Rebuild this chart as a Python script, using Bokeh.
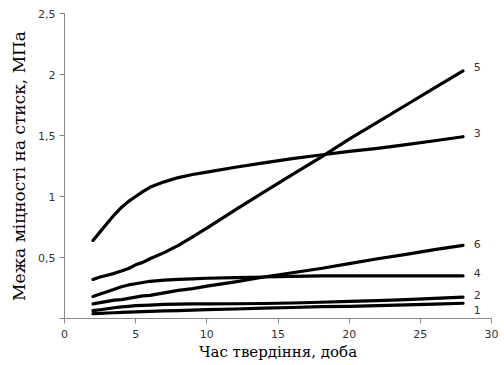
from bokeh.plotting import figure
from bokeh.models import ColumnDataSource, FixedTicker, Range1d
from bokeh.core.properties import value
from bokeh.embed import file_html
from bokeh.resources import INLINE

# ---- data ----
days = [2, 2.5, 3, 3.5, 4, 4.5, 5, 5.5, 6, 7, 8, 9, 10, 12, 14, 16, 18, 20, 22, 24, 26, 28]
s1 = [0.04, 0.042, 0.045, 0.047, 0.05, 0.052, 0.055, 0.056, 0.058, 0.062, 0.065, 0.068, 0.072,
      0.078, 0.085, 0.09, 0.097, 0.1, 0.105, 0.112, 0.118, 0.125]
s2 = [0.065, 0.072, 0.08, 0.088, 0.095, 0.1, 0.105, 0.108, 0.11, 0.115, 0.118, 0.12, 0.12,
      0.121, 0.123, 0.127, 0.133, 0.14, 0.147, 0.155, 0.165, 0.175]
s3 = [0.64, 0.71, 0.78, 0.85, 0.91, 0.96, 1.00, 1.04, 1.075, 1.12, 1.155, 1.18, 1.20,
      1.24, 1.275, 1.31, 1.34, 1.37, 1.395, 1.425, 1.457, 1.49]
s4 = [0.18, 0.20, 0.22, 0.24, 0.26, 0.275, 0.285, 0.295, 0.305, 0.315, 0.32, 0.325, 0.33,
      0.335, 0.34, 0.345, 0.35, 0.35, 0.35, 0.35, 0.35, 0.35]
s5 = [0.32, 0.34, 0.355, 0.37, 0.39, 0.41, 0.44, 0.46, 0.49, 0.54, 0.60, 0.67, 0.74,
      0.89, 1.035, 1.18, 1.32, 1.47, 1.61, 1.75, 1.89, 2.03]
s6 = [0.12, 0.13, 0.14, 0.15, 0.155, 0.165, 0.175, 0.185, 0.19, 0.21, 0.23, 0.245, 0.265,
      0.30, 0.34, 0.375, 0.41, 0.45, 0.49, 0.525, 0.565, 0.60]
series = [s1, s2, s3, s4, s5, s6]
series_names = ["1", "2", "3", "4", "5", "6"]
label_x = 28.75
label_y = [0.066, 0.189, 1.52, 0.377, 2.06, 0.61]

x_ticks = [0, 5, 10, 15, 20, 25, 30]
y_ticks = [0, 0.5, 1, 1.5, 2, 2.5]
y_tick_labels = ["", "0,5", "1", "1,5", "2", "2,5"]

x_title = "Час твердіння, доба"
y_title = "Межа міцності на стиск, МПа"

p = figure(width=502, height=363, output_backend="svg", toolbar_location=None,
           x_range=Range1d(0, 30), y_range=Range1d(0, 2.5),
           min_border_left=64, min_border_right=11, min_border_top=13, min_border_bottom=45)
p.outline_line_color = None
p.xgrid.visible = False
p.ygrid.visible = False
p.background_fill_color = "white"
p.border_fill_color = "white"

for ys in series:
    src = ColumnDataSource(dict(x=days, y=ys))
    p.line("x", "y", source=src, line_color="black", line_width=3.2, line_cap="round", line_join="round")

lab_src = ColumnDataSource(dict(x=[label_x] * 6, y=label_y, t=series_names))
p.text("x", "y", text="t", source=lab_src, text_font=value("DejaVu Sans"),
       text_font_size="11px", text_color="#333333", text_baseline="middle", text_align="left")

for ax in (p.xaxis[0], p.yaxis[0]):
    ax.axis_line_color = "#868686"
    ax.major_tick_line_color = "#868686"
    ax.minor_tick_line_color = None
    ax.major_tick_out = 5
    ax.major_tick_in = 0
    ax.major_label_text_font = "DejaVu Sans"
    ax.major_label_text_font_size = "11px"
    ax.major_label_text_color = "#333333"
    ax.axis_label_text_font = "DejaVu Serif"
    ax.axis_label_text_font_style = "normal"
    ax.axis_label_text_color = "black"

p.xaxis.axis_label_text_font_size = "15px"
p.yaxis.axis_label_text_font_size = "17px"
p.xaxis.ticker = FixedTicker(ticks=x_ticks)
p.yaxis.ticker = FixedTicker(ticks=y_ticks)
p.yaxis.major_label_overrides = {t: l for t, l in zip(y_ticks, y_tick_labels)}
p.xaxis.axis_label = x_title
p.yaxis.axis_label = y_title
p.xaxis.major_label_standoff = 6
p.yaxis.major_label_standoff = 4
p.xaxis.axis_label_standoff = 2
p.yaxis.axis_label_standoff = 6

open("out.html", "w").write(file_html(p, INLINE))
